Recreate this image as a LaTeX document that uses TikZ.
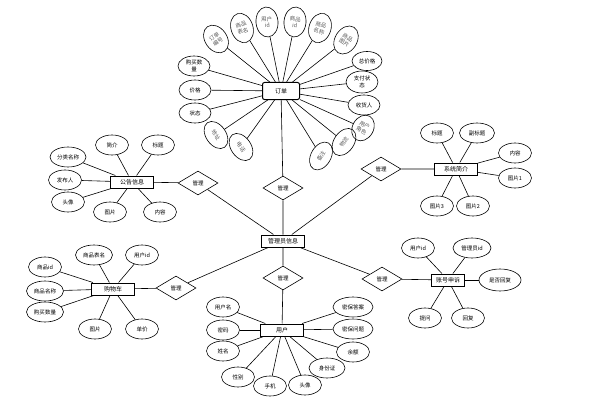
\documentclass[tikz,border=0pt]{standalone}
\usepackage{fontspec}
\newfontfamily\cjk{Noto Sans CJK SC}
\usetikzlibrary{shapes.geometric}
\tikzset{
  attr/.style={ellipse, draw, line width=0.6pt, minimum width=33pt, minimum height=20pt, inner sep=0pt, align=center, font=\cjk\fontsize{5.5}{6.5}\selectfont},
  rattr/.style={attr, text=black!65, minimum width=30pt, minimum height=20pt},
  tall/.style={attr, text=black!65, minimum width=22pt, minimum height=30pt},
  ent/.style={rectangle, draw, line width=1pt, minimum width=43pt, minimum height=12pt, inner sep=1pt, font=\cjk\fontsize{6}{7}\selectfont},
  rel/.style={diamond, draw, line width=0.6pt, minimum width=40pt, minimum height=24pt, inner sep=0pt, font=\cjk\fontsize{5.5}{6.5}\selectfont},
  conn/.style={line width=0.6pt}
}
\begin{document}
\begin{tikzpicture}[x=1pt,y=-1pt]
\useasboundingbox (0,0) rectangle (600,404);
% central
\node[ent] (admin) at (283,241) {管理员信息};
\node[ent, rounded corners=2pt, minimum width=37pt, minimum height=17pt] (order) at (281,91) {订单};
\node[ent] (notice) at (132,182) {公告信息};
\node[ent] (sys) at (456,169) {系统简介};
\node[ent] (cart) at (113,289) {购物车};
\node[ent] (user) at (282,330) {用户};
\node[ent, minimum width=33pt] (appeal) at (448,280) {账号申诉};
% relations
\node[rel] (r1) at (283,188) {管理};
\node[rel] (r2) at (198,183) {管理};
\node[rel] (r3) at (381,169) {管理};
\node[rel] (r4) at (176,288) {管理};
\node[rel] (r5) at (382,279) {管理};
\node[rel] (r6) at (283,278) {管理};
\foreach \r/\e in {r1/order, r2/notice, r3/sys, r4/cart, r5/appeal, r6/user}{
  \draw[conn] (admin) -- (\r) -- (\e);
}
% order attributes
\node[tall, rotate=35] (o1) at (216,39) {订单\\编号};
\node[tall, rotate=18] (o2) at (242,28) {商品\\表名};
\node[tall, rotate=5] (o3) at (267,22) {用户\\id};
\node[tall, rotate=-5] (o4) at (295,22) {商品\\id};
\node[tall, rotate=-18] (o5) at (320,28) {商品\\名称};
\node[tall, rotate=-32] (o6) at (346,40) {商品\\图片};
\node[attr, minimum width=32pt] (o7) at (194,66) {购买数\\量};
\node[attr, minimum width=32pt] (o8) at (195,90) {价格};
\node[attr, minimum width=32pt] (o9) at (195,113) {状态};
\node[rattr, rotate=-55] (o10) at (216,135) {地址};
\node[rattr, rotate=-55] (o11) at (241,147) {电话};
\node[rattr, rotate=60] (o12) at (321,156) {备注};
\node[rattr, rotate=55] (o13) at (344,142) {物流};
\node[tall, rotate=-30, minimum width=21pt, minimum height=27pt] (o14) at (363,128) {用户\\角色};
\node[attr, minimum width=32pt] (o15) at (364,105) {收货人};
\node[attr, minimum width=32pt, minimum height=22pt] (o16) at (362,82) {支付状\\态};
\node[attr, minimum width=30pt, minimum height=19pt] (o17) at (367,61) {总价格};
\foreach \a in {o1,o2,o3,o4,o5,o6,o7,o8,o9,o10,o11,o12,o13,o14,o15,o16,o17}{
  \draw[conn] (order) -- (\a);
}
% notice attributes
\node[attr] (n1) at (112,145) {简介};
\node[attr] (n2) at (158,145) {标题};
\node[attr, minimum width=36pt] (n3) at (68,157) {分类名称};
\node[attr] (n4) at (65,180) {发布人};
\node[attr] (n5) at (68,202) {头像};
\node[attr] (n6) at (110,212) {图片};
\node[attr] (n7) at (160,212) {内容};
\foreach \a in {n1,n2,n3,n4,n5,n6,n7}{
  \draw[conn] (notice) -- (\a);
}
% system intro attributes
\node[attr] (s1) at (437,133) {标题};
\node[attr, minimum width=35pt] (s2) at (477,133) {副标题};
\node[attr] (s3) at (515,153) {内容};
\node[attr] (s4) at (515,178) {图片1};
\node[attr] (s5) at (437,206) {图片3};
\node[attr] (s6) at (473,206) {图片2};
\foreach \a in {s1,s2,s3,s4,s5,s6}{
  \draw[conn] (sys) -- (\a);
}
% cart attributes
\node[attr, minimum width=37pt] (c1) at (94,255) {商品表名};
\node[attr] (c2) at (142,255) {用户id};
\node[attr] (c3) at (45,267) {商品id};
\node[attr, minimum width=37pt] (c4) at (45,291) {商品名称};
\node[attr, minimum width=37pt] (c5) at (45,312) {购买数量};
\node[attr] (c6) at (95,329) {图片};
\node[attr] (c7) at (142,329) {单价};
\foreach \a in {c1,c2,c3,c4,c5,c6,c7}{
  \draw[conn] (cart) -- (\a);
}
% user attributes
\node[attr] (u1) at (223,307) {用户名};
\node[attr] (u2) at (223,330) {密码};
\node[attr] (u3) at (223,351) {姓名};
\node[attr] (u4) at (238,377) {性别};
\node[attr] (u5) at (270,386) {手机};
\node[attr] (u6) at (305,385) {头像};
\node[attr, minimum width=36pt] (u7) at (327,368) {身份证};
\node[attr] (u8) at (353,352) {余额};
\node[attr, minimum width=40pt] (u9) at (353,329) {密保问题};
\node[attr, minimum width=40pt] (u10) at (353,307) {密保答案};
\foreach \a in {u1,u2,u3,u4,u5,u6,u7,u8,u9,u10}{
  \draw[conn] (user) -- (\a);
}
% appeal attributes
\node[attr] (a1) at (418,248) {用户id};
\node[attr, minimum width=38pt] (a2) at (472,248) {管理员id};
\node[attr, minimum width=42pt, minimum height=22pt] (a3) at (500,280) {是否回复};
\node[attr] (a4) at (425,318) {提问};
\node[attr] (a5) at (468,318) {回复};
\foreach \a in {a1,a2,a3,a4,a5}{
  \draw[conn] (appeal) -- (\a);
}
\end{tikzpicture}
\end{document}
